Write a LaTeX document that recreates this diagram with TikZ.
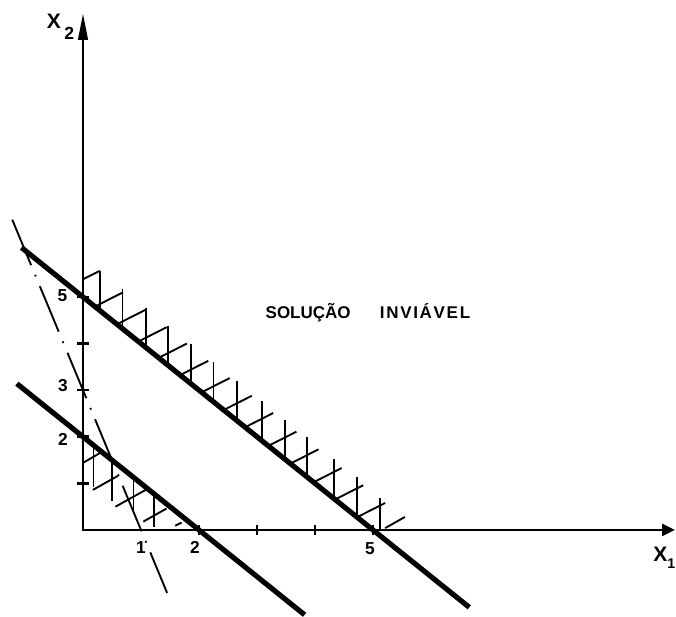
\documentclass[tikz,border=0pt]{standalone}
\usepackage{fontspec}
\setmainfont{Liberation Sans}
\usetikzlibrary{arrows.meta}
\begin{document}
\begin{tikzpicture}[x=1.74cm,y=1.398cm,
  axis/.style={line width=2.5pt, line join=miter},
  bound/.style={line width=4.4pt},
  hatch/.style={line width=1.6pt},
  dashdot/.style={line width=1.6pt, dash pattern=on 42pt off 9pt on 1.5pt off 9pt},
  tickmark/.style={line width=2.2pt},
  num/.style={font=\fontsize{14.8}{16}\selectfont\bfseries, inner sep=0pt},
  axlabel/.style={font=\fontsize{17.9}{20}\selectfont\bfseries, inner sep=0pt, anchor=base west},
  region/.style={font=\fontsize{14.5}{16}\selectfont\bfseries, inner sep=0pt, anchor=base}
  ]
\useasboundingbox (-1.431,-1.867) rectangle (10.224,11.373);

% hatching above x1+x2=5
\foreach \t in {0.29,0.68,1.08,1.47,1.86,2.25,2.65,3.09,3.48,3.86,4.32,4.72}
  \draw[hatch] ({\t},{5-\t}) -- ++(0,0.85);
\draw[hatch] (5.12,0) -- (5.12,0.68);
\draw[hatch] (0,5.38) -- (0.29,5.56);
\foreach \s in {0.23,0.61,0.98,1.33,1.7,2.07,2.45,2.82,3.22,3.6,4.0,4.37,4.75}
  \draw[hatch] ({\s},{5-\s+0.04}) -- ++(0.46,0.29);
\draw[hatch] (5.21,0.04) -- (5.55,0.28);

% hatching below x1+x2=2
\draw[hatch] (0.18,1.82) -- (0.18,0.92);
\draw[hatch] (0.5,1.5) -- (0.5,0.62);
\draw[hatch] (0.87,1.13) -- (0.87,0.4);
\draw[hatch] (1.23,0.77) -- (1.23,0.06);
\draw[hatch] (0,1.44) -- (0.29,1.65);
\draw[hatch] (0.17,0.86) -- (0.6,1.16);
\draw[hatch] (0.56,0.5) -- (1.08,0.86);
\draw[hatch] (1.04,0.18) -- (1.44,0.46);
\draw[hatch] (1.59,0.09) -- (1.7,0.16);

% dash-dot line 3x1+x2=3
\coordinate (d1) at (-1.22,6.66);
\coordinate (d2) at (1.45,-1.35);
\draw[dashdot] (d1) -- (d2);

% axes
\coordinate (O) at (0,0);
\coordinate (xend) at (10.207,0);
\coordinate (yend) at (0,11.094);
\draw[axis, {Triangle[length=23pt,width=8pt]}-{Triangle[length=11pt,width=10pt]}] (yend) -- (O) -- (xend);

% ticks
\foreach \y in {1,2,3,4,5}
  \draw[tickmark] (-0.1,\y) -- (0.1,\y);
\foreach \x in {2,3,4,5}
  \draw[tickmark] (\x,-0.11) -- (\x,0.11);

% boundary lines
\coordinate (a1) at (-1.06,6.06);
\coordinate (a2) at (6.66,-1.66);
\coordinate (b1) at (-1.14,3.14);
\coordinate (b2) at (3.82,-1.82);
\draw[bound] (a1) -- (a2);
\draw[bound] (b1) -- (b2);

% labels
\node[axlabel] (lx2) at (-0.626,10.766) {X\hspace{3pt}\raisebox{-9.4pt}{\fontsize{15}{16}\selectfont 2}};
\node[axlabel] (lx1) at (9.828,-0.680) {X\raisebox{-5.4pt}{\fontsize{12}{14}\selectfont 1}};
\node[num] (ny5) at (-0.353,5.021) {5};
\node[num] (ny3) at (-0.345,3.09) {3};
\node[num] (ny2) at (-0.345,1.953) {2};
\node[num] (nx1) at (1.0,-0.376) {1};
\node[num] (nx2) at (1.931,-0.376) {2};
\node[num] (nx5) at (4.948,-0.408) {5};
\node[region] (txt) at (4.912,4.528) {SOLUÇÃO\hspace{25pt}\addfontfeatures{LetterSpace=10}INVIÁVEL};
\end{tikzpicture}
\end{document}
